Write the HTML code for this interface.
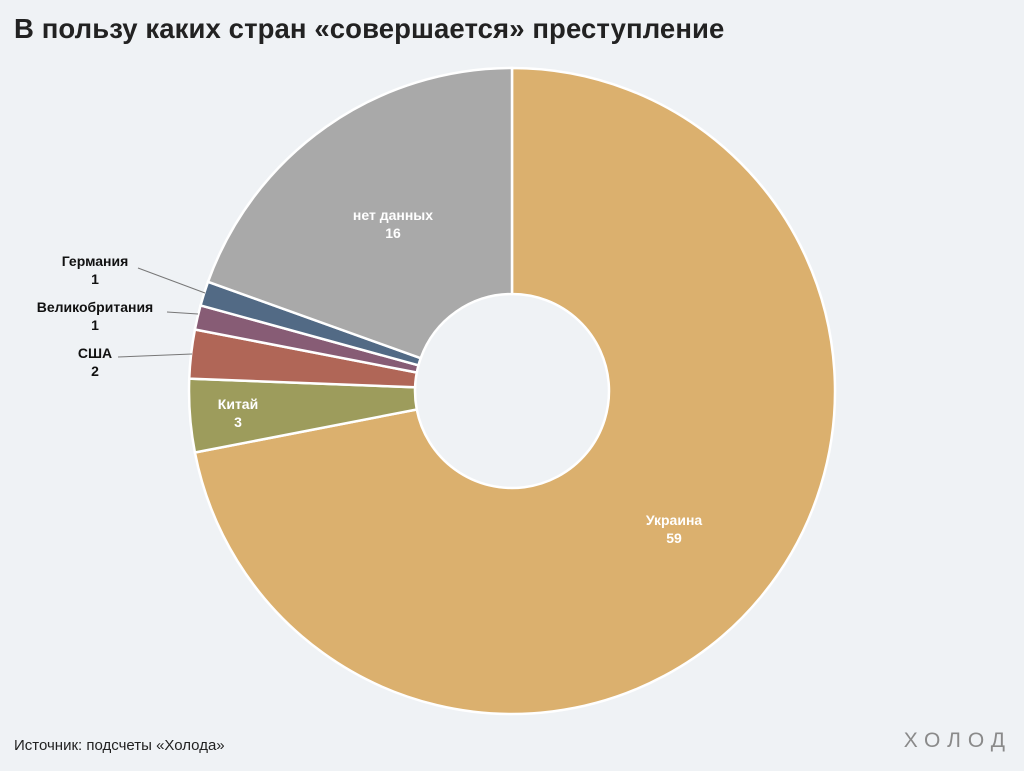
<!DOCTYPE html>
<html><head><meta charset="utf-8"><style>
body{margin:0;background:#eff2f5;width:1024px;height:771px;overflow:hidden;font-family:"Liberation Sans",sans-serif}
.t{position:absolute;left:14px;top:13px;font-size:27.5px;font-weight:bold;color:#222;letter-spacing:0.1px}
.s{position:absolute;left:14px;top:737px;font-size:15px;color:#222}
.l{position:absolute;right:12px;top:729px;font-size:21px;letter-spacing:7px;color:#8a8a8a}
</style></head><body>
<div class="t">В пользу каких стран «совершается» преступление</div>
<svg id="c" width="1024" height="771" style="position:absolute;left:0;top:0">
<g id="p"></g>
<g stroke="#777" stroke-width="1" fill="none">
<line x1="138" y1="268" x2="205" y2="293"/>
<line x1="167" y1="312" x2="198" y2="314"/>
<line x1="118" y1="357" x2="192" y2="354"/>
</g>
<g font-family="Liberation Sans, sans-serif" font-weight="bold" font-size="14" text-anchor="middle">
<text x="95" y="266" fill="#111">Германия</text><text x="95" y="284" fill="#111">1</text>
<text x="95" y="312" fill="#111">Великобритания</text><text x="95" y="330" fill="#111">1</text>
<text x="95" y="358" fill="#111">США</text><text x="95" y="376" fill="#111">2</text>
<text x="238" y="409" fill="#fff">Китай</text><text x="238" y="427" fill="#fff">3</text>
<text x="393" y="220" fill="#fff">нет данных</text><text x="393" y="238" fill="#fff">16</text>
<text x="674" y="525" fill="#fff">Украина</text><text x="674" y="543" fill="#fff">59</text>
</g>
</svg>
<div class="s">Источник: подсчеты «Холода»</div>
<div class="l">ХОЛОД</div>
<script>
var d=[[59,"#dbb06e"],[3,"#9d9c5c"],[2,"#b06657"],[1,"#875c75"],[1,"#526a85"],[16,"#a9a9a9"]];
var cx=512,cy=391,R=323,r=97,a=0,h="";
function pt(rr,t){return (cx+rr*Math.sin(t)).toFixed(2)+","+(cy-rr*Math.cos(t)).toFixed(2);}
d.forEach(function(s){var b=a+s[0]/82*2*Math.PI,lg=(b-a)>Math.PI?1:0;
h+='<path d="M'+pt(R,a)+' A'+R+','+R+' 0 '+lg+' 1 '+pt(R,b)+' L'+pt(r,b)+' A'+r+','+r+' 0 '+lg+' 0 '+pt(r,a)+' Z" fill="'+s[1]+'" stroke="#fff" stroke-width="2.5"/>';a=b;});
document.getElementById("p").innerHTML=h;
</script>
</body></html>
